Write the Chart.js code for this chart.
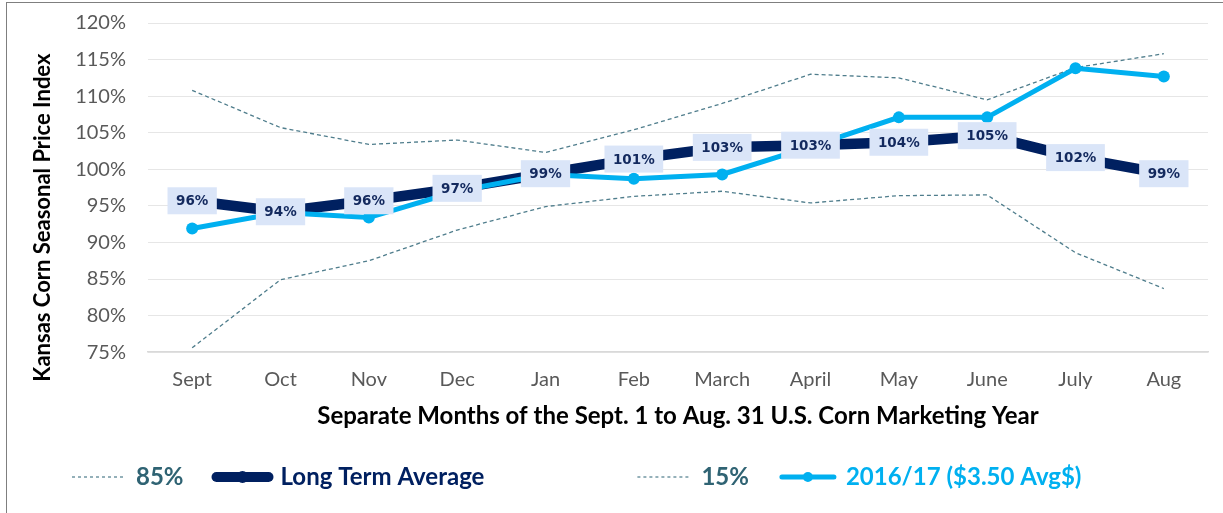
<!DOCTYPE html>
<html>
<head>
<meta charset="utf-8">
<script src="https://cdn.jsdelivr.net/npm/chart.js@4/dist/chart.umd.min.js"></script>
<style>
  html, body { margin: 0; padding: 0; background: #ffffff; }
  #wrap { position: relative; width: 1223px; height: 513px; overflow: hidden; }
  #frame { position: absolute; left: 6px; top: 2px; width: 1240px; height: 540px;
           border-left: 1.5px solid #7f7f7f; border-top: 1.5px solid #7f7f7f; box-sizing: border-box; pointer-events: none; }
  canvas { position: absolute; left: 0; top: 0; }
</style>
</head>
<body>
<div id="wrap">
  <canvas id="c" width="1223" height="513"></canvas>
  <div id="frame"></div>
</div>
<script>
// ---- data ----
const months = ['Sept','Oct','Nov','Dec','Jan','Feb','March','April','May','June','July','Aug'];
const pct85 = [110.8, 105.7, 103.4, 104.0, 102.3, 105.4, 109.0, 113.0, 112.5, 109.5, 113.9, 115.8];
const longTermAvg = [95.7, 94.2, 95.7, 97.4, 99.4, 101.4, 103.0, 103.3, 103.7, 104.6, 101.6, 99.4];
const pct15 = [75.6, 84.9, 87.5, 91.7, 94.9, 96.3, 97.0, 95.4, 96.4, 96.5, 88.6, 83.7];
const season1617 = [91.9, 94.1, 93.4, 97.0, 99.3, 98.7, 99.3, 103.1, 107.1, 107.1, 113.8, 112.7];
const yTicks = [75, 80, 85, 90, 95, 100, 105, 110, 115, 120];
const yTitle = 'Kansas Corn Seasonal Price Index';
const xTitle = 'Separate Months of the Sept. 1 to Aug. 31 U.S. Corn Marketing Year';

const NAVY = '#002060';
const CYAN = '#00B0F0';
const DASH = '#4f7d8c';
const DASH_TEXT = '#2f6373';
const FONT = 'Lato, "Open Sans", sans-serif';
const GAP = '\u2002'.repeat(10); // extra spacing after an entry, as in the original legend layout

const legendOrder = [
  { ds: 2, text: '85%', color: DASH, fontColor: DASH_TEXT, width: 1.2, dash: [3, 3], cap: 'butt', dot: 0, after: '' },
  { ds: 1, text: 'Long Term Average', color: NAVY, fontColor: NAVY, width: 10, dash: [], cap: 'round', dot: 6, after: GAP },
  { ds: 3, text: '15%', color: DASH, fontColor: DASH_TEXT, width: 1.2, dash: [3, 3], cap: 'butt', dot: 0, after: '' },
  { ds: 0, text: '2016/17 ($3.50 Avg$)', color: CYAN, fontColor: CYAN, width: 5, dash: [], cap: 'round', dot: 5, after: '' }
];

const dataLabels = {
  id: 'dataLabels',
  afterDatasetsDraw(chart) {
    const meta = chart.getDatasetMeta(1);
    const ctx = chart.ctx;
    ctx.save();
    ctx.font = 'bold 13.5px "DejaVu Sans", Verdana, sans-serif';
    ctx.textAlign = 'center';
    ctx.textBaseline = 'middle';
    meta.data.forEach((pt, i) => {
      const txt = Math.round(longTermAvg[i]) + '%';
      const w = ctx.measureText(txt).width + 17;
      const h = 27;
      ctx.fillStyle = '#dae5f8';
      ctx.fillRect(pt.x - w / 2, pt.y - h / 2, w, h);
      ctx.fillStyle = '#13295e';
      ctx.fillText(txt, pt.x, pt.y + 1);
    });
    ctx.restore();
  }
};

const yAxisTitle = {
  id: 'yAxisTitle',
  afterDraw(chart) {
    const ctx = chart.ctx;
    const a = chart.chartArea;
    ctx.save();
    ctx.translate(43, (a.top + a.bottom) / 2 + 30);
    ctx.rotate(-Math.PI / 2);
    ctx.font = 'bold 22px ' + FONT;
    ctx.fillStyle = '#000000';
    ctx.textAlign = 'center';
    ctx.textBaseline = 'middle';
    ctx.fillText(yTitle, 0, 0);
    ctx.restore();
  }
};

const legendDots = {
  id: 'legendDots',
  afterDraw(chart) {
    const lg = chart.legend;
    if (!lg || !lg.legendHitBoxes) return;
    const ctx = chart.ctx;
    const bw = chart.options.plugins.legend.labels.pointStyleWidth;
    const fs = chart.options.plugins.legend.labels.font.size;
    ctx.save();
    lg.legendItems.forEach((item, i) => {
      const spec = legendOrder[i];
      if (!spec.dot) return;
      const hb = lg.legendHitBoxes[i];
      ctx.beginPath();
      ctx.fillStyle = spec.color;
      ctx.arc(hb.left + bw / 2, hb.top + fs / 2, spec.dot, 0, Math.PI * 2);
      ctx.fill();
    });
    ctx.restore();
  }
};

new Chart(document.getElementById('c'), {
  type: 'line',
  data: {
    labels: months,
    datasets: [
      { label: '2016/17 ($3.50 Avg$)', data: season1617, borderColor: CYAN, backgroundColor: CYAN,
        borderWidth: 5, pointRadius: 6, pointHoverRadius: 6, pointBackgroundColor: CYAN, pointBorderWidth: 0, tension: 0 },
      { label: 'Long Term Average', data: longTermAvg, borderColor: NAVY, backgroundColor: NAVY,
        borderWidth: 10.5, pointRadius: 0, tension: 0, borderJoinStyle: 'round' },
      { label: '85%', data: pct85, borderColor: DASH, borderWidth: 1.3, borderDash: [4, 3], pointRadius: 0, tension: 0 },
      { label: '15%', data: pct15, borderColor: DASH, borderWidth: 1.3, borderDash: [4, 3], pointRadius: 0, tension: 0 }
    ]
  },
  options: {
    responsive: false,
    animation: false,
    events: [],
    layout: { padding: { left: 39, right: 15, top: 23, bottom: 14 } },
    scales: {
      x: {
        offset: true,
        grid: { display: false, drawTicks: true, tickLength: 15, tickColor: 'rgba(0,0,0,0)', offset: true },
        border: { display: true, color: '#d9d9d9', width: 1.5 },
        ticks: { color: '#595959', font: { family: FONT, size: 20 }, padding: 0, maxRotation: 0 },
        title: { display: true, text: xTitle,
                 color: '#000000', font: { family: FONT, size: 24, weight: 'bold' }, padding: { top: 11, bottom: 1 } }
      },
      y: {
        min: 75, max: 120,
        afterBuildTicks(scale) { scale.ticks = yTicks.map(v => ({ value: v })); },
        grid: { color: '#e6e6e6', lineWidth: 1, drawTicks: true, tickLength: 22, tickColor: 'rgba(0,0,0,0)' },
        border: { display: false },
        ticks: { color: '#595959', font: { family: FONT, size: 20 }, padding: 0,
                 callback: v => v + '%' },
        title: { display: false, text: yTitle },
        afterFit(scale) { scale.width = 109; }
      }
    },
    plugins: {
      tooltip: { enabled: false },
      legend: {
        position: 'bottom',
        align: 'start',
        labels: {
          usePointStyle: true,
          pointStyleWidth: 52,
          padding: 33,
          font: { family: FONT, size: 24, weight: 'bold' },
          generateLabels() {
            return legendOrder.map(s => ({
              text: s.text + s.after, fontColor: s.fontColor,
              strokeStyle: s.color, fillStyle: s.color, lineWidth: s.width, lineDash: s.dash,
              lineCap: s.cap, pointStyle: 'line', datasetIndex: s.ds, hidden: false
            }));
          }
        }
      }
    }
  },
  plugins: [dataLabels, legendDots, yAxisTitle]
});
</script>
</body>
</html>
